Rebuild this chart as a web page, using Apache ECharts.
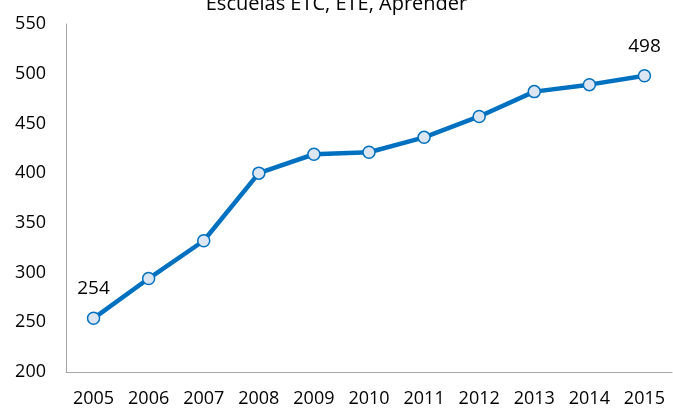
<!DOCTYPE html>
<html>
<head>
<meta charset="utf-8">
<script src="https://cdn.jsdelivr.net/npm/echarts@6/dist/echarts.min.js"></script>
<style>
html, body { margin: 0; padding: 0; background: #fff; }
#main { width: 673px; height: 410px; }
</style>
</head>
<body>
<div id="main"></div>
<script>
var years = ['2005', '2006', '2007', '2008', '2009', '2010', '2011', '2012', '2013', '2014', '2015'];
var escuelas = [254, 294, 332, 400, 419, 421, 436, 457, 482, 489, 498];
var labelled = [0, 10]; // only first and last point carry a label

var myChart = echarts.init(document.getElementById('main'));
var font = 'Open Sans';

var option = {
    animation: false,
    title: {
        text: 'Escuelas ETC, ETE, Aprender',
        left: 'center',
        top: -11,
        textStyle: { fontFamily: font, fontSize: 20, fontWeight: 'normal', color: '#000' }
    },
    grid: { left: 66, right: 1, top: 24, bottom: 38 },
    xAxis: {
        type: 'category',
        data: years,
        boundaryGap: true,
        axisLine: { lineStyle: { color: '#a6a6a6', width: 1 } },
        axisTick: { show: false },
        axisLabel: { color: '#000', fontFamily: font, fontSize: 18, margin: 18 }
    },
    yAxis: {
        type: 'value',
        min: 200,
        max: 550,
        interval: 50,
        axisLine: { show: true, lineStyle: { color: '#a6a6a6', width: 1 } },
        axisTick: { show: false },
        splitLine: { show: false },
        axisLabel: { color: '#000', fontFamily: font, fontSize: 18, margin: 20 }
    },
    series: [{
        type: 'line',
        data: escuelas.map(function (v, i) {
            return {
                value: v,
                label: { show: labelled.indexOf(i) >= 0 }
            };
        }),
        symbol: 'circle',
        symbolSize: 12,
        lineStyle: { color: '#0070c0', width: 4.5 },
        itemStyle: { color: '#dce6f2', borderColor: '#0070c0', borderWidth: 1.5 },
        label: {
            position: 'top',
            distance: 13,
            color: '#000',
            fontFamily: font,
            fontSize: 19
        }
    }]
};

myChart.setOption(option);
</script>
</body>
</html>
